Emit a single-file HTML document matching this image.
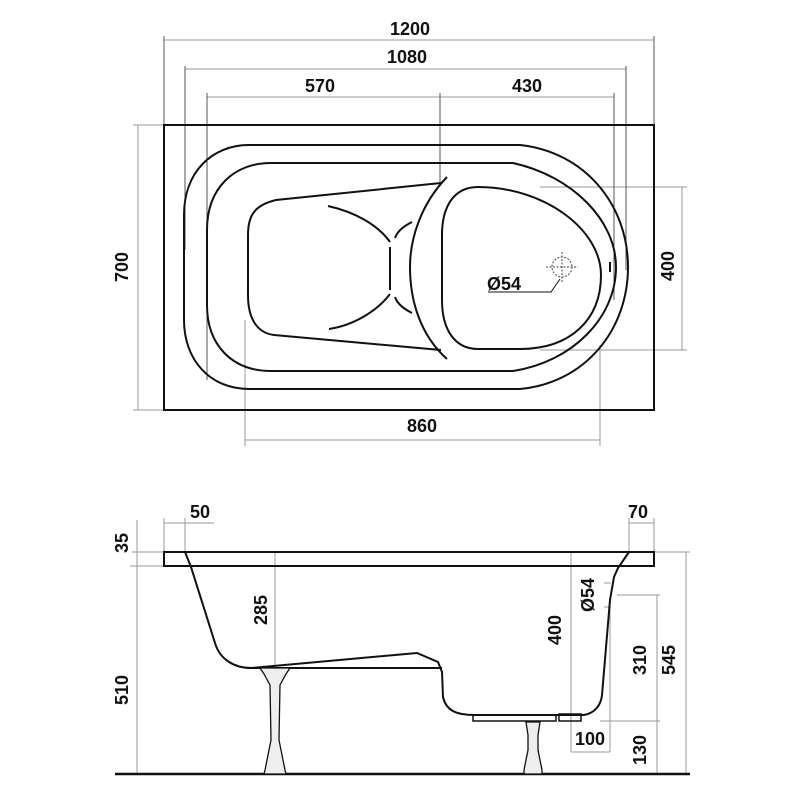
<!DOCTYPE html>
<html><head><meta charset="utf-8"><style>
html,body{margin:0;padding:0;background:#fff}
svg{display:block}
text{font-family:"Liberation Sans","DejaVu Sans",sans-serif;font-size:18px;fill:#111;font-weight:bold}
</style></head><body>
<svg width="800" height="800" viewBox="0 0 800 800" xmlns="http://www.w3.org/2000/svg">
<g stroke="#999" stroke-width="1" fill="none">
<line x1="164" y1="40" x2="654" y2="40"/>
<line x1="185" y1="69" x2="626" y2="69"/>
<line x1="207" y1="97" x2="614" y2="97"/>
<!-- 700 -->
<line x1="138" y1="125" x2="138" y2="410"/>
<line x1="133" y1="125" x2="164" y2="125"/>
<line x1="133" y1="410" x2="164" y2="410"/>
<!-- 400 -->
<line x1="682" y1="187" x2="682" y2="350"/>
<line x1="540" y1="187" x2="687" y2="187"/>
<line x1="540" y1="350" x2="687" y2="350"/>
<!-- 860 -->
<line x1="245" y1="320" x2="245" y2="446"/>
<line x1="600" y1="345" x2="600" y2="446"/>
<line x1="245" y1="440" x2="600" y2="440"/>
<!-- side dims -->
<line x1="137" y1="520" x2="137" y2="774"/>
<line x1="132" y1="552" x2="164" y2="552"/>
<line x1="130" y1="566" x2="190" y2="566"/>
<line x1="164" y1="518" x2="164" y2="552"/>
<line x1="185" y1="518" x2="185" y2="552"/>
<line x1="164" y1="523" x2="214" y2="523"/>
<line x1="629" y1="518" x2="629" y2="552"/>
<line x1="654" y1="518" x2="654" y2="552"/>
<line x1="629" y1="523" x2="654" y2="523"/>
<line x1="275" y1="552" x2="275" y2="668"/>
<line x1="571" y1="552" x2="571" y2="752"/>
<line x1="610" y1="600" x2="610" y2="752"/>
<line x1="571" y1="752" x2="610" y2="752"/>
<line x1="604" y1="583" x2="611" y2="583"/>
<line x1="604" y1="607" x2="611" y2="607"/>
<line x1="617" y1="595" x2="660" y2="595"/>
<line x1="657" y1="595" x2="657" y2="774"/>
<line x1="600" y1="721" x2="660" y2="721"/>
<line x1="654" y1="552" x2="690" y2="552"/>
<line x1="686" y1="552" x2="686" y2="774"/>
</g>
<g stroke="#555" stroke-width="1" fill="none">
<line x1="164" y1="36" x2="164" y2="125"/>
<line x1="654" y1="36" x2="654" y2="125"/>
<line x1="185" y1="66" x2="185" y2="250"/>
<line x1="626" y1="66" x2="626" y2="270"/>
<line x1="207" y1="93" x2="207" y2="380"/>
<line x1="440" y1="93" x2="440" y2="185"/>
<line x1="614" y1="93" x2="614" y2="300"/>
</g>
<g stroke="#111" stroke-width="2" fill="none">
<rect x="164" y="125" width="490" height="285"/>
<!-- outer rim -->
<path d="M249,145 L520,145 C585,152 628,205 628,267 C628,330 585,383 520,389 L249,389 C210,389 184,360 184,320 L184,215 C184,172 212,145 249,145 Z"/>
<path d="M271,163 L513,163 C572,176 616,220 616,267 C616,318 572,362 513,371 L271,371 C232,371 207,345 207,305 L207,230 C207,188 234,163 271,163 Z"/>
<!-- seat -->
<path d="M441,183 L276,200 C255,205 248,215 248,235 L248,295 C248,320 258,333 274,335 L441,350"/>
<path d="M447,177 C420,205 410,240 410,267 C410,300 420,335 447,359"/>
<path d="M328,206 C355,212 378,225 390,242"/>
<path d="M390,247 L390,290"/>
<path d="M390,294 C378,310 355,325 329,329"/>
<path d="M412,222 C402,227 397,232 395,238"/>
<path d="M395,297 C397,303 402,308 412,313"/>
<!-- basin -->
<path d="M478,187 C545,187 601,230 601,275 C601,320 570,349 520,349 L478,349 C455,349 442,330 442,300 L442,235 C442,205 455,187 478,187 Z"/>
<line x1="610" y1="262" x2="610" y2="272"/>
<!-- side view -->
<rect x="164" y="552" width="490" height="14"/>
<path d="M185,552 L191,567 L215,643 C220,660 235,668 251,668 L417,653 L438,662 L442,672 L443,697 C446,710 455,715 475,715 L584,715 C595,713 601,705 602,695 L610,600 L614,577 L618,568 L629,552"/>
<line x1="251" y1="668" x2="442" y2="668"/>
<rect x="473" y="715" width="83" height="6" stroke-width="1.5"/>
<rect x="559" y="714" width="22" height="7" stroke-width="1.5"/>
<line x1="115" y1="774" x2="690" y2="774" stroke-width="2.5"/>
</g>
<g stroke="#111" stroke-width="1.3" fill="#eee">
<path d="M260,668 L290,668 L286,674 L280,685 L279,740 L285,770 L286,774 L264,774 L265,770 L271,740 L270,685 L264,674 Z"/>
<path d="M526,722 L540,722 L538,735 L538,750 L542,770 L542,774 L524,774 L524,770 L528,750 L528,735 Z"/>
</g>
<!-- drain -->
<g stroke="#444" stroke-width="1" fill="none" stroke-dasharray="2,1.5">
<circle cx="562" cy="267" r="10"/>
<line x1="546" y1="267" x2="578" y2="267"/>
<line x1="562" y1="252" x2="562" y2="283"/>
</g>
<path d="M560,279 L551,292 L488,292" stroke="#111" stroke-width="1" fill="none"/>
<text x="487" y="290">Ø54</text>
<g text-anchor="middle">
<text x="410" y="35">1200</text>
<text x="407" y="63">1080</text>
<text x="320" y="92">570</text>
<text x="527" y="92">430</text>
<text x="422" y="432">860</text>
<text x="200" y="518">50</text>
<text x="638" y="518">70</text>
<text x="590" y="745">100</text>
<text transform="translate(128,267) rotate(-90)">700</text>
<text transform="translate(674,266) rotate(-90)">400</text>
<text transform="translate(128,543) rotate(-90)">35</text>
<text transform="translate(128,690) rotate(-90)">510</text>
<text transform="translate(267,610) rotate(-90)">285</text>
<text transform="translate(561,630) rotate(-90)">400</text>
<text transform="translate(594,595) rotate(-90)">Ø54</text>
<text transform="translate(646,660) rotate(-90)">310</text>
<text transform="translate(675,660) rotate(-90)">545</text>
<text transform="translate(646,750) rotate(-90)">130</text>
</g>
</svg>
</body></html>
